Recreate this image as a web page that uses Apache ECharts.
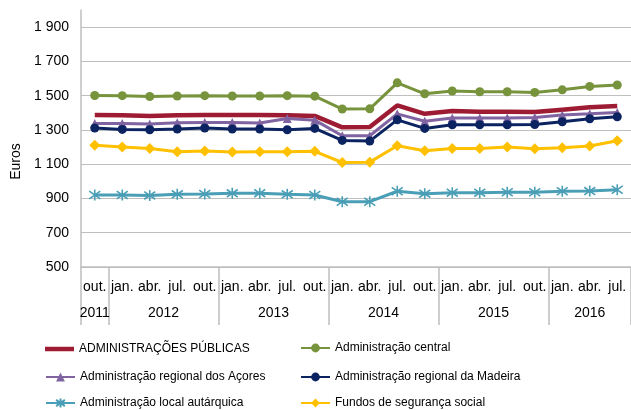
<!DOCTYPE html>
<html>
<head>
<meta charset="utf-8">
<title>Remunerações</title>
<script src="https://cdn.jsdelivr.net/npm/echarts@6/dist/echarts.min.js"></script>
<style>
    html, body { margin: 0; padding: 0; background: #fff; }
    #chart { width: 631px; height: 410px; }
</style>
</head>
<body>
<div id="chart"></div>
<script>
// categorias (meses) e anos
var months = ['out.', 'jan.', 'abr.', 'jul.', 'out.', 'jan.', 'abr.', 'jul.', 'out.', 'jan.',
    'abr.', 'jul.', 'out.', 'jan.', 'abr.', 'jul.', 'out.', 'jan.', 'abr.', 'jul.'];
var years = ['2011', '2012', '2013', '2014', '2015', '2016'];
var yearSpans = [1, 4, 4, 4, 4, 3];

var seriesNames = ['ADMINISTRAÇÕES PÚBLICAS', 'Administração central', 'Administração regional dos Açores',
    'Administração regional da Madeira', 'Administração local autárquica', 'Fundos de segurança social'];

var adminPublicas = [1387, 1386, 1381, 1385, 1387, 1387, 1387, 1386, 1382, 1315, 1317, 1443, 1394, 1410, 1406, 1406, 1404, 1418, 1432, 1439];
var adminCentral = [1501, 1500, 1495, 1498, 1500, 1498, 1498, 1500, 1497, 1422, 1423, 1575, 1511, 1527, 1523, 1523, 1519, 1534, 1554, 1562];
var adminAcores = [1338, 1338, 1334, 1342, 1344, 1344, 1340, 1367, 1357, 1266, 1266, 1394, 1351, 1370, 1370, 1370, 1373, 1387, 1394, 1402];
var adminMadeira = [1311, 1303, 1301, 1305, 1311, 1305, 1305, 1301, 1309, 1239, 1235, 1359, 1309, 1330, 1330, 1330, 1332, 1348, 1365, 1377];
var adminLocal = [920, 920, 918, 924, 926, 930, 931, 924, 920, 881, 881, 942, 928, 934, 934, 936, 936, 942, 943, 951];
var fundosSS = [1210, 1200, 1192, 1173, 1177, 1171, 1173, 1173, 1175, 1110, 1112, 1208, 1179, 1192, 1192, 1200, 1190, 1196, 1206, 1237];

// eixo dos anos: meia-categoria por posição
var yearSlots = [];
var yearBounds = [0];
var yearCenters = [];
(function () {
    var pos = 0;
    for (var i = 0; i < yearSpans.length; i++) {
        yearCenters.push(pos + yearSpans[i]);
        pos += yearSpans[i] * 2;
        yearBounds.push(pos);
    }
    for (var k = 0; k <= pos; k++) {
        var idx = yearCenters.indexOf(k);
        yearSlots.push(idx >= 0 ? years[idx] : '');
    }
})();

var gray = '#bfbfbf';
var asterisk = 'path://M5 0L5 10M1.5 1.5L8.5 8.5M1.5 8.5L8.5 1.5';

function fmtThousands(v) {
    if (v < 1000) {
        return String(v);
    }
    var r = v % 1000;
    return Math.floor(v / 1000) + ' ' + (r < 10 ? '00' + r : r < 100 ? '0' + r : r);
}

function lineSeries(name, data, color, width, symbol, size) {
    return {
        name: name,
        type: 'line',
        data: data,
        symbol: symbol,
        symbolSize: size,
        showSymbol: symbol !== 'none',
        lineStyle: {color: color, width: width},
        itemStyle: {color: color},
        z: 3
    };
}

// uma legenda por item (2 colunas x 3 linhas)
var legendPos = [[45, 343], [300, 342], [45, 371], [300, 371], [45, 397], [300, 397]];
var legends = [];
for (var i = 0; i < seriesNames.length; i++) {
    var leg = {
        left: legendPos[i][0],
        top: legendPos[i][1],
        itemWidth: 29,
        itemHeight: 11,
        padding: 0,
        selectedMode: false,
        textStyle: {color: '#000', fontFamily: '"Liberation Sans", Arial', fontSize: 12},
        data: [seriesNames[i]]
    };
    if (i === 0) {
        // só a linha grossa, sem marcador
        leg.itemHeight = 4.5;
        leg.data = [{name: seriesNames[i], icon: 'rect'}];
    }
    legends.push(leg);
}

var chart = echarts.init(document.getElementById('chart'));
var localSeries = lineSeries(seriesNames[4], adminLocal, '#4a9eb6', 3, asterisk, 11);
localSeries.itemStyle = {color: '#4a9eb6', borderColor: '#4a9eb6', borderWidth: 1.6};

var option = {
    animation: false,
    textStyle: {fontFamily: '"Liberation Sans", Arial'},
    grid: {left: 81, right: 0, top: 10, bottom: 143, containLabel: false},
    legend: legends,
    xAxis: [{
        type: 'category',
        data: months,
        boundaryGap: true,
        axisLine: {lineStyle: {color: gray, width: 1.5}},
        axisTick: {length: 26, lineStyle: {color: gray}},
        axisLabel: {interval: 0, margin: 13, color: '#000', fontSize: 14}
    }, {
        type: 'category',
        data: yearSlots,
        boundaryGap: false,
        position: 'bottom',
        axisLine: {show: false},
        axisTick: {
            length: 58,
            lineStyle: {color: gray, width: 1.5},
            interval: function (index) {
                return yearBounds.indexOf(index) >= 0;
            }
        },
        axisLabel: {
            margin: 39,
            color: '#000',
            fontSize: 14,
            interval: function (index) {
                return yearCenters.indexOf(index) >= 0;
            }
        }
    }],
    yAxis: {
        type: 'value',
        min: 500,
        max: 2000,
        interval: 100,
        name: 'Euros',
        nameLocation: 'middle',
        nameGap: 56,
        nameTextStyle: {color: '#000', fontSize: 14, padding: [0, 46, 0, 0]},
        axisLine: {show: true, lineStyle: {color: gray, width: 1.5}},
        axisTick: {show: false},
        axisLabel: {
            color: '#000',
            fontSize: 14,
            margin: 12,
            formatter: function (v) {
                return (v % 200 === 100 && v < 2000) ? fmtThousands(v) : '';
            }
        },
        splitLine: {show: true, showMaxLine: false, lineStyle: {color: [gray, 'rgba(0,0,0,0)'], width: 1.2}}
    },
    series: [
        lineSeries(seriesNames[0], adminPublicas, '#9e1c33', 4.5, 'none', 0),
        lineSeries(seriesNames[1], adminCentral, '#77933c', 3, 'circle', 9),
        lineSeries(seriesNames[2], adminAcores, '#8064a2', 3, 'triangle', 9),
        lineSeries(seriesNames[3], adminMadeira, '#0b2461', 3, 'circle', 9),
        localSeries,
        lineSeries(seriesNames[5], fundosSS, '#ffc000', 3, 'diamond', 11)
    ]
};
chart.setOption(option, true);
</script>
</body>
</html>
